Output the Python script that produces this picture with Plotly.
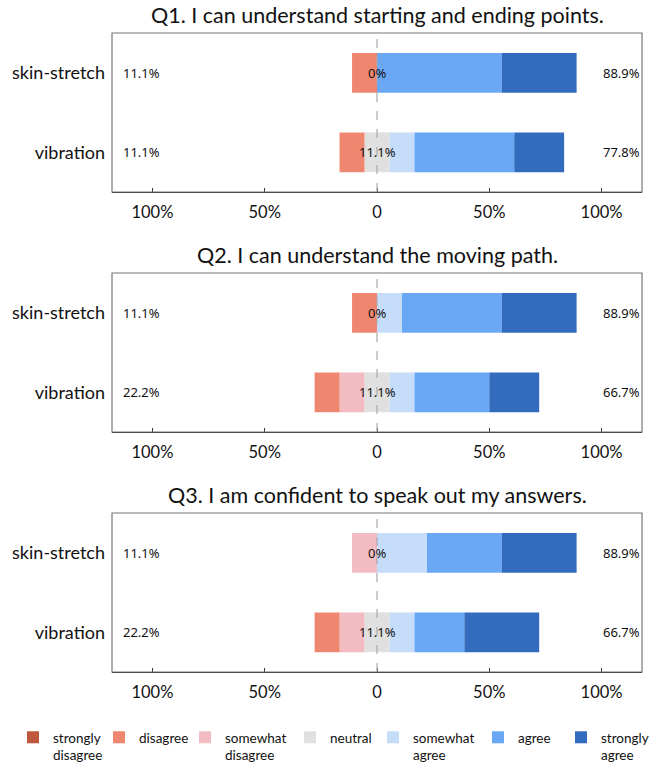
import plotly.graph_objects as go

N_PARTICIPANTS = 9
categories = ["skin-stretch", "vibration"]
levels = ["strongly disagree", "disagree", "somewhat disagree", "neutral",
          "somewhat agree", "agree", "strongly agree"]
legend_labels = ["strongly<br>disagree", "disagree", "somewhat<br>disagree", "neutral",
                 "somewhat<br>agree", "agree", "strongly<br>agree"]
colors = ["#c0583e", "#ef8670", "#f2bcc2", "#e0e0e0", "#c6ddfa", "#6aa8f6", "#336bbf"]

questions = ["Q1. I can understand starting and ending points.",
             "Q2. I can understand the moving path.",
             "Q3. I am confident to speak out my answers."]

# counts of responses (out of 9) per level, per category
q1_skin = [0, 1, 0, 0, 0, 5, 3]
q1_vib = [0, 1, 0, 1, 1, 4, 2]
q2_skin = [0, 1, 0, 0, 1, 4, 3]
q2_vib = [0, 1, 1, 1, 1, 3, 2]
q3_skin = [0, 0, 1, 0, 2, 3, 3]
q3_vib = [0, 1, 1, 1, 1, 2, 3]
data = [[q1_skin, q1_vib], [q2_skin, q2_vib], [q3_skin, q3_vib]]

X_RANGE = [-118, 118]
FONT = "Lato"
PCT_FONT = "Noto Sans"

W, H = 654, 766
ML, MR, MT, MB = 112, 12, 33, 94
PH = H - MT - MB
box_px = [(33, 192), (273, 432), (513, 672)]
title_px = [15, 255, 495]
legend_sq_px = [27, 113, 199, 304, 387, 492, 575]
LEGEND_TOP_PX = 722


def ypaper(px):
    return (H - MB - px) / PH


def pct(c):
    return c / N_PARTICIPANTS * 100


def fmt(v):
    return "0%" if abs(v) < 1e-9 else f"{v:.1f}%"


fig = go.Figure()
# stacking order from centre outwards
order = [("neutral", -1), ("neutral", 1), ("somewhat disagree", -1), ("somewhat agree", 1),
         ("disagree", -1), ("agree", 1), ("strongly disagree", -1), ("strongly agree", 1)]

for qi, rows in enumerate(data):
    xa = "x" if qi == 0 else f"x{qi + 1}"
    ya = "y" if qi == 0 else f"y{qi + 1}"
    for lvl, sign in order:
        li = levels.index(lvl)
        vals = []
        for r in rows:
            v = pct(r[li])
            if lvl == "neutral":
                v = v / 2
            vals.append(sign * v)
        show = qi == 0 and (lvl != "neutral" or sign == 1)
        fig.add_trace(go.Bar(
            x=vals, y=categories, orientation="h", xaxis=xa, yaxis=ya,
            marker=dict(color=colors[li], line=dict(width=0)),
            width=0.5, name=legend_labels[li], legendgroup=lvl,
            legend="legend" if li == 0 else f"legend{li + 1}",
            showlegend=show, hoverinfo="skip"))
    # annotations: negative total, neutral, positive total
    for ci, r in enumerate(rows):
        neg = pct(sum(r[0:3]))
        neu = pct(r[3])
        pos = pct(sum(r[4:7]))
        fig.add_annotation(x=-114, y=categories[ci], xref=xa, yref=ya, text=fmt(neg),
                           showarrow=False, xanchor="left",
                           font=dict(family=PCT_FONT, size=13, color="#111"))
        fig.add_annotation(x=0, y=categories[ci], xref=xa, yref=ya, text=fmt(neu),
                           showarrow=False, xanchor="center",
                           font=dict(family=PCT_FONT, size=13, color="#111"))
        fig.add_annotation(x=118, y=categories[ci], xref=xa, yref=ya, text=fmt(pos),
                           showarrow=False, xanchor="right",
                           font=dict(family=PCT_FONT, size=13, color="#111"))
    # zero dashed line
    fig.add_shape(type="line", x0=0, x1=0, y0=0, y1=1, xref=xa, yref=f"{ya} domain",
                  line=dict(color="#aaaaaa", width=1.2, dash="dash"), layer="above")
    # box frame
    fig.add_shape(type="rect", x0=0, x1=1, y0=0, y1=1, xref=f"{xa} domain",
                  yref=f"{ya} domain", line=dict(color="#777777", width=1.2), layer="above")
    # title
    fig.add_annotation(x=0.5, y=ypaper(title_px[qi]), xref="paper", yref="paper",
                       text=questions[qi], showarrow=False, xanchor="center",
                       yanchor="middle", font=dict(family=FONT, size=21.5, color="#111"))

    top, bot = box_px[qi]
    dom = [ypaper(bot), ypaper(top)]
    xkey = "xaxis" if qi == 0 else f"xaxis{qi + 1}"
    ykey = "yaxis" if qi == 0 else f"yaxis{qi + 1}"
    fig.update_layout(**{
        xkey: dict(domain=[0, 1], range=X_RANGE, anchor=ya, tickvals=[-100, -50, 0, 50, 100],
                   ticktext=["100%", "50%", "0", "50%", "100%"], ticks="inside",
                   ticklen=4, tickcolor="#333", showgrid=False, zeroline=False,
                   showline=True, linecolor="#222", linewidth=1.2, tickangle=0,
                   tickfont=dict(family=FONT, size=16.5, color="#111"),
                   ticklabelstandoff=5, fixedrange=True, automargin=False),
        ykey: dict(domain=dom, anchor=xa, type="category", categoryarray=categories,
                   range=[1.5, -0.5], showgrid=False, zeroline=False, ticks="",
                   showline=False, tickfont=dict(family=FONT, size=18, color="#111"),
                   ticklabelstandoff=6, fixedrange=True, automargin=False),
    })

legends = {}
for li in range(len(levels)):
    key = "legend" if li == 0 else f"legend{li + 1}"
    legends[key] = dict(x=(legend_sq_px[li] - 14) / W, xref="container", xanchor="left",
                        y=ypaper(LEGEND_TOP_PX), yanchor="top", valign="top",
                        bgcolor="rgba(0,0,0,0)", itemwidth=30,
                        font=dict(family=FONT, size=13.5, color="#111"))

fig.update_layout(
    width=W, height=H, barmode="relative",
    margin=dict(l=ML, r=MR, t=MT, b=MB, autoexpand=False),
    paper_bgcolor="white", plot_bgcolor="white",
    showlegend=True, **legends,
)

fig.write_html("out.html", config={"displayModeBar": False},
               post_script="document.body.style.margin='0';")
